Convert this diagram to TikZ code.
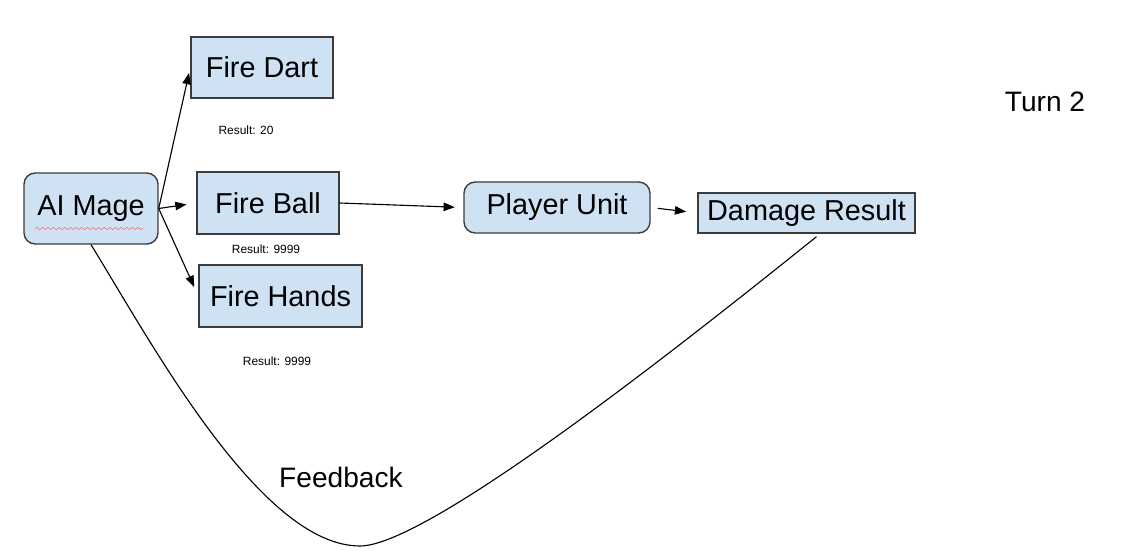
\documentclass[tikz,border=0pt]{standalone}
\usepackage{fontspec}
\setmainfont{Liberation Sans}
\usetikzlibrary{arrows.meta,calc,decorations.pathmorphing}

\definecolor{boxblue}{HTML}{CFE2F3}
\definecolor{boxline}{HTML}{3C3C3C}

\begin{document}
\begin{tikzpicture}[x=0.025cm, y=-0.025cm,
		spell/.style={draw, fill=boxblue, draw=boxline, line width=1pt, font=\fontsize{20.5}{24}\selectfont, inner sep=2pt},
		roundspell/.style={spell, rounded corners=8pt},
		result/.style={font=\fontsize{8.5}{10}\selectfont},
		link/.style={-{Triangle[length=8pt,width=6pt]}, line width=0.8pt}]
			\useasboundingbox (0, 0) rectangle (1132, 551);

			\draw (91, 208.5) 	node[roundspell, minimum width=3.35cm, minimum height=1.775cm] 	(mage) 		{AI Mage};
			\draw (262, 67.5) 	node[spell, minimum width=3.55cm, minimum height=1.525cm] 		(dart) 		{Fire Dart};
			\draw (268, 203) 	node[spell, minimum width=3.55cm, minimum height=1.55cm] 		(ball) 		{Fire Ball};
			\draw (280.5, 296) 	node[spell, minimum width=4.075cm, minimum height=1.55cm] 		(hands) 	{Fire Hands};
			\draw (557, 207.5) 	node[roundspell, minimum width=4.65cm, minimum height=1.275cm] 	(player) 	{Player Unit};
			\draw (806.5, 213) 	node[spell, minimum width=5.425cm, minimum height=1cm] 			(damage) 	{Damage Result};

			\draw (246, 130) 	node[result] 	(dart_res) 		{Result: 20};
			\draw (266, 249) 	node[result] 	(ball_res) 		{Result: 9999};
			\draw (277, 361) 	node[result] 	(hands_res) 	{Result: 9999};
			\draw (1045, 102) 	node[font=\fontsize{20}{24}\selectfont] 	(turn) 		{Turn 2};
			\draw (341, 477) 	node[font=\fontsize{20}{24}\selectfont] 	(feedback) 	{Feedback};

			% spell check squiggle
			\draw[red!60, line width=0.4pt, decorate, decoration={snake, segment length=4pt, amplitude=0.8pt}]
				($(mage.center)+(-56, 20)$) -- ($(mage.center)+(52, 20)$);

			\draw[link, shorten >=4pt] (mage.east) -- (dart.west);
			\draw[link, shorten >=7pt] (mage.east) -- (ball.west);
			\draw[link, shorten >=7pt] (mage.east) -- (hands.west);
			\draw[link, shorten >=6pt] (ball.east) -- (player.west);
			\draw[link, shorten <=5pt, shorten >=8pt] (player.east) -- (damage.west);

			\draw[line width=0.8pt] (mage.south) .. controls (150, 340) and (260, 546) .. (360, 546)
				.. controls (430, 546) and (700, 330) .. ($(damage.south)+(10, 3)$);
		\end{tikzpicture}
\end{document}
